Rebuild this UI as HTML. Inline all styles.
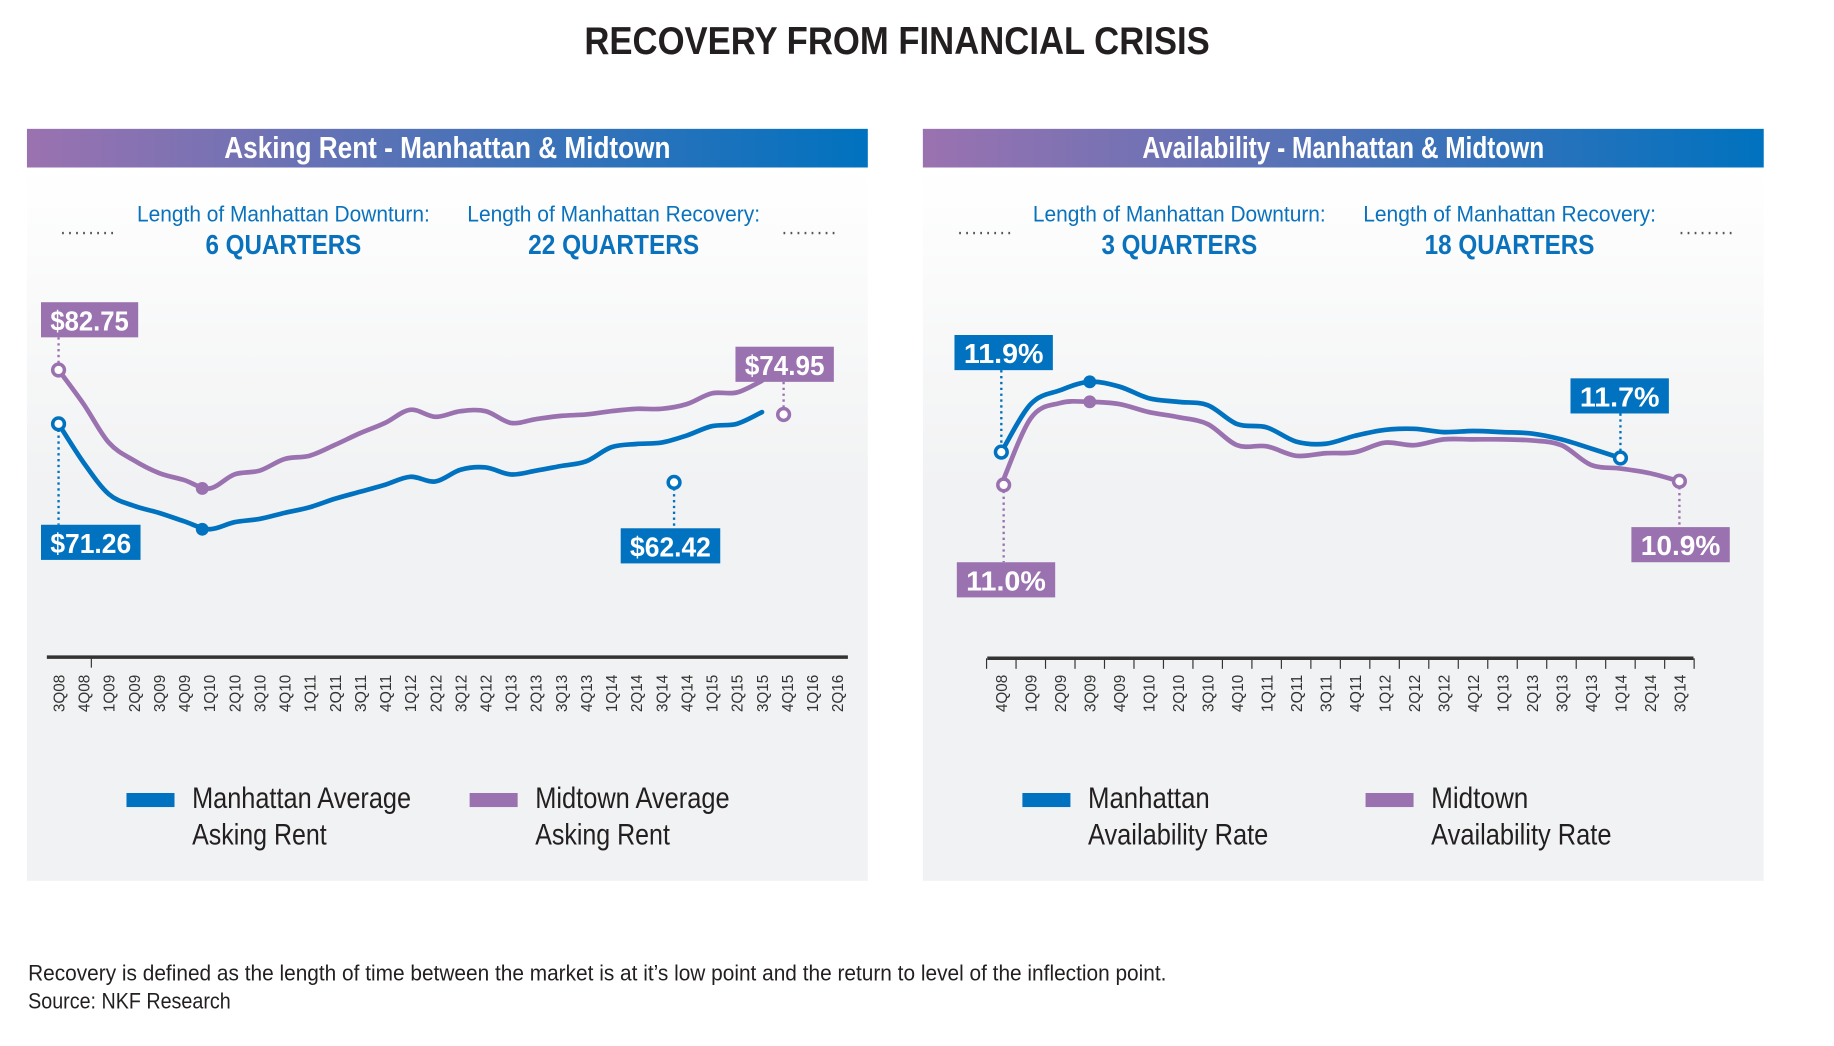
<!DOCTYPE html>
<html><head><meta charset="utf-8"><style>
html,body{margin:0;padding:0;background:#fff;}
svg{display:block;}
text{font-family:"Liberation Sans Narrow","Liberation Sans",sans-serif;}
</style></head><body>
<svg id="chart" width="1834" height="1046" viewBox="0 0 1566 893" preserveAspectRatio="none" xmlns="http://www.w3.org/2000/svg">
<defs>
<linearGradient id="hdr" x1="0" x2="1" y1="0" y2="0"><stop offset="0" stop-color="#9b72b0"/><stop offset="1" stop-color="#0072bf"/></linearGradient>
<linearGradient id="bodyg" x1="0" x2="0" y1="0" y2="1"><stop offset="0" stop-color="#ffffff"/><stop offset="0.45" stop-color="#f1f2f3"/><stop offset="1" stop-color="#f1f2f3"/></linearGradient>
</defs>
<text x="766" y="46" text-anchor="middle" font-size="33" font-weight="bold" fill="#231f20" textLength="534" lengthAdjust="spacingAndGlyphs">RECOVERY FROM FINANCIAL CRISIS</text>
<g id="root"></g>
<text x="24" y="837" font-size="19" fill="#231f20" textLength="972" lengthAdjust="spacingAndGlyphs">Recovery is defined as the length of time between the market is at it’s low point and the return to level of the inflection point.</text>
<text x="24" y="861" font-size="19" fill="#231f20" textLength="173" lengthAdjust="spacingAndGlyphs">Source: NKF Research</text>
</svg>
<script>
// ---- Left chart data (asking rent, $/SF) ----
const rentQuarters = ["3Q08","4Q08","1Q09","2Q09","3Q09","4Q09","1Q10","2Q10","3Q10","4Q10","1Q11","2Q11","3Q11","4Q11","1Q12","2Q12","3Q12","4Q12","1Q13","2Q13","3Q13","4Q13","1Q14","2Q14","3Q14","4Q14","1Q15","2Q15","3Q15","4Q15","1Q16","2Q16"];
const rentManhattan = [71.3,63.0,56.3,53.8,52.3,50.5,48.8,50.3,51.0,52.3,53.5,55.3,56.8,58.3,60.0,59.0,61.5,62.0,60.5,61.3,62.3,63.3,66.3,67.0,67.3,68.8,70.8,71.3,73.8];
const rentMidtown = [82.8,75.5,67.3,63.5,60.8,59.3,57.5,60.5,61.3,63.8,64.5,66.8,69.3,71.5,74.3,72.8,74.0,74.0,71.5,72.3,73.0,73.3,74.0,74.5,74.5,75.5,77.8,78.0,80.5];
const rentManhattanMarkers = [[0,71.3],[6,48.8],[24.5,58.8]];
const rentMidtownMarkers = [[0,82.8],[6,57.5],[29,73.3]];
// ---- Right chart data (availability rate, %) ----
const availQuarters = ["4Q08","1Q09","2Q09","3Q09","4Q09","1Q10","2Q10","3Q10","4Q10","1Q11","2Q11","3Q11","4Q11","1Q12","2Q12","3Q12","4Q12","1Q13","2Q13","3Q13","4Q13","1Q14","2Q14","3Q14"];
const availManhattan = [11.9,13.22,13.6,13.83,13.7,13.38,13.28,13.19,12.67,12.58,12.19,12.13,12.35,12.51,12.54,12.45,12.48,12.45,12.41,12.25,12.0,11.74];
const availMidtown = [11.0,12.83,13.25,13.28,13.22,13.0,12.86,12.67,12.09,12.06,11.8,11.87,11.9,12.16,12.09,12.25,12.25,12.25,12.22,12.09,11.55,11.45,11.32,11.1];

const NS="http://www.w3.org/2000/svg";
const root=document.getElementById('root');
function mk(tag,attrs,parent,txt){const e=document.createElementNS(NS,tag);for(const k in attrs)e.setAttribute(k,attrs[k]);if(txt!==undefined)e.textContent=txt;(parent||root).appendChild(e);return e;}
function smooth(pts){let d="M"+pts[0][0]+","+pts[0][1];for(let i=0;i<pts.length-1;i++){const p0=pts[i-1]||pts[i],p1=pts[i],p2=pts[i+1],p3=pts[i+2]||p2;const c1x=p1[0]+(p2[0]-p0[0])/6,c1y=p1[1]+(p2[1]-p0[1])/6,c2x=p2[0]-(p3[0]-p1[0])/6,c2y=p2[1]-(p3[1]-p1[1])/6;d+=" C"+c1x+","+c1y+" "+c2x+","+c2y+" "+p2[0]+","+p2[1];}return d;}
const BLUE="#0072bf",PURP="#9b72b0",TXTB="#0a72bd";

function panel(px,title,titleW,down,downW,rec,recW,dots){
  const g=mk('g',{});
  
  
  mk('rect',{x:px,y:143,width:718,height:609,fill:'url(#bodyg)'},g);
  const h=mk('rect',{x:px,y:110,width:718,height:33,fill:'url(#hdr)'},g);
  
  
  const t=mk('text',{x:px+359,y:135,'text-anchor':'middle','font-size':26,'font-weight':'bold',fill:'#fff',textLength:titleW,lengthAdjust:'spacingAndGlyphs'},g,title);
  
  
  const items=[[px+219,"Length of Manhattan Downturn:",down,downW],[px+501,"Length of Manhattan Recovery:",rec,recW]];
  items.forEach(it=>{
    const a=mk('text',{x:it[0],y:189,'text-anchor':'middle','font-size':19,fill:TXTB,textLength:250,lengthAdjust:'spacingAndGlyphs'},g,it[1]);
    
    
    const b=mk('text',{x:it[0],y:217,'text-anchor':'middle','font-size':24,'font-weight':'bold',fill:TXTB,textLength:it[3],lengthAdjust:'spacingAndGlyphs'},g,it[2]);
    
    
  });
  dots.forEach(x=>{mk('line',{x1:x,x2:x+44,y1:199,y2:199,stroke:'#555','stroke-width':2,'stroke-dasharray':'1.5 4.5'},g);});
  return g;
}
function label(g,x,y,w,txt,col,name){
  const r=mk('rect',{x:x,y:y,width:w,height:30,fill:col},g);
  
  
  const t=mk('text',{x:x+w/2,y:y+24,'text-anchor':'middle','font-size':24,'font-weight':'bold',fill:'#fff',textLength:w-16,lengthAdjust:'spacingAndGlyphs'},g,txt);
  
  
}
function conn(g,x,y1,y2,col){mk('line',{x1:x,x2:x,y1:y1,y2:y2,stroke:col,'stroke-width':2,'stroke-dasharray':'2 3'},g);}
function series(g,vals,xf,yf,col,name){
  const p=mk('path',{d:smooth(vals.map((v,i)=>[xf(i),yf(v)])),fill:'none',stroke:col,'stroke-width':4,'stroke-linecap':'round'},g);
  
  
}
function marker(g,x,y,col,filled,name){
  const c=mk('circle',{cx:x,cy:y,r:5,fill:filled?col:'#fff',stroke:col,'stroke-width':filled?1:3},g);
  
  
}
function legend(g,x,col,l1,w1,l2,w2){
  const r=mk('rect',{x:x,y:677,width:41,height:12,fill:col},g);
  
  
  const a=mk('text',{x:x+56,y:690,'font-size':25,fill:'#231f20',textLength:w1,lengthAdjust:'spacingAndGlyphs'},g,l1);
  
  
  mk('text',{x:x+56,y:721,'font-size':25,fill:'#231f20',textLength:w2,lengthAdjust:'spacingAndGlyphs'},g,l2);
}

// ===== Left chart =====
const gL=panel(23,"Asking Rent - Manhattan & Midtown",381,"6 QUARTERS",133,"22 QUARTERS",146,[53,669]);
const xL=i=>50+i*(665/(rentQuarters.length-1));
const yL=v=>362-(v-71.26)*4;
mk('line',{x1:40,x2:724,y1:561,y2:561,stroke:'#333','stroke-width':3},gL);
mk('line',{x1:78,x2:78,y1:561,y2:570,stroke:'#333','stroke-width':1},gL);
rentQuarters.forEach((q,i)=>{
  const t=mk('text',{transform:`translate(${xL(i)+5},576) rotate(-90)`,'text-anchor':'end','font-size':13,fill:'#333','font-family':'Liberation Sans',textLength:32,lengthAdjust:'spacingAndGlyphs'},gL,q);
  
  
});
series(gL,rentMidtown,xL,yL,PURP,'midtown-rent-line');
series(gL,rentManhattan,xL,yL,BLUE,'manhattan-rent-line');
conn(gL,xL(0),288,yL(rentMidtownMarkers[0][1]),PURP);
conn(gL,xL(0),yL(rentManhattanMarkers[0][1]),448,BLUE);
conn(gL,xL(rentManhattanMarkers[2][0]),yL(rentManhattanMarkers[2][1]),451,BLUE);
conn(gL,xL(rentMidtownMarkers[2][0])-3,326,yL(rentMidtownMarkers[2][1]),PURP);
marker(gL,xL(0),yL(rentMidtownMarkers[0][1]),PURP,false,'midtown-start-marker');
marker(gL,xL(0),yL(rentManhattanMarkers[0][1]),BLUE,false,'manhattan-start-marker');
marker(gL,xL(6)-6,yL(rentManhattanMarkers[1][1]),BLUE,true,'manhattan-low-marker');
marker(gL,xL(6)-6,yL(rentMidtownMarkers[1][1]),PURP,true,'midtown-low-marker');
marker(gL,xL(rentManhattanMarkers[2][0]),yL(rentManhattanMarkers[2][1]),BLUE,false,'manhattan-recovery-marker');
marker(gL,xL(rentMidtownMarkers[2][0])-3,yL(rentMidtownMarkers[2][1]),PURP,false,'midtown-recovery-marker');
label(gL,35,258,83,"$82.75",PURP,'midtown-peak-label');
label(gL,35,448,85,"$71.26",BLUE,'manhattan-peak-label');
label(gL,530,451,85,"$62.42",BLUE,'manhattan-recovery-label');
label(gL,628,296,84,"$74.95",PURP,'midtown-recovery-label');
legend(gL,108,BLUE,"Manhattan Average",187,"Asking Rent",115);
legend(gL,401,PURP,"Midtown Average",166,"Asking Rent",115);

// ===== Right chart =====
const gR=panel(788,"Availability - Manhattan & Midtown",343,"3 QUARTERS",133,"18 QUARTERS",145,[819,1435]);
const xR=i=>855+i*(579/(availQuarters.length-1));
const yR=v=>386-(v-11.9)*31.1;
mk('line',{x1:843,x2:1446,y1:562,y2:562,stroke:'#333','stroke-width':3},gR);
for(let i=0;i<=availQuarters.length;i++){const x=xR(i)-12.6;mk('line',{x1:x,x2:x,y1:562,y2:571,stroke:'#333','stroke-width':1},gR);}
availQuarters.forEach((q,i)=>{
  const t=mk('text',{transform:`translate(${xR(i)+5},576) rotate(-90)`,'text-anchor':'end','font-size':13,fill:'#333','font-family':'Liberation Sans',textLength:32,lengthAdjust:'spacingAndGlyphs'},gR,q);
  
  
});
series(gR,availMidtown,xR,yR,PURP,'midtown-availability-line');
series(gR,availManhattan,xR,yR,BLUE,'manhattan-availability-line');
conn(gR,xR(0),316,yR(availManhattan[0]),BLUE);
conn(gR,xR(0)+2,yR(availMidtown[0]),480,PURP);
conn(gR,xR(availManhattan.length-1),353,yR(availManhattan[availManhattan.length-1]),BLUE);
conn(gR,xR(availMidtown.length-1),yR(availMidtown[availMidtown.length-1]),450,PURP);
marker(gR,xR(0),yR(availManhattan[0]),BLUE,false,'manhattan-start-marker');
marker(gR,xR(0)+2,yR(availMidtown[0]),PURP,false,'midtown-start-marker');
marker(gR,xR(3),yR(availManhattan[3]),BLUE,true,'manhattan-peak-marker');
marker(gR,xR(3),yR(availMidtown[3]),PURP,true,'midtown-peak-marker');
marker(gR,xR(availManhattan.length-1),yR(availManhattan[availManhattan.length-1]),BLUE,false,'manhattan-end-marker');
marker(gR,xR(availMidtown.length-1),yR(availMidtown[availMidtown.length-1]),PURP,false,'midtown-end-marker');
label(gR,815,286,84,"11.9%",BLUE,'manhattan-start-label');
label(gR,817,480,84,"11.0%",PURP,'midtown-start-label');
label(gR,1341,323,84,"11.7%",BLUE,'manhattan-end-label');
label(gR,1393,450,84,"10.9%",PURP,'midtown-end-label');
legend(gR,873,BLUE,"Manhattan",104,"Availability Rate",154);
legend(gR,1166,PURP,"Midtown",83,"Availability Rate",154);
</script>
</body></html>
